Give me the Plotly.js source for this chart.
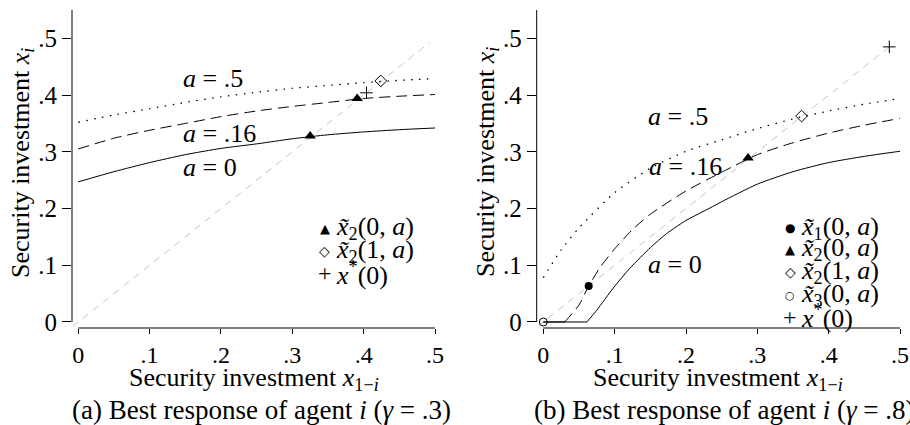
<!DOCTYPE html>
<html>
<head>
<meta charset="utf-8">
<script src="https://cdn.plot.ly/plotly-3.0.1.min.js"></script>
<style>html,body{margin:0;padding:0;background:#fff;}#plot{width:910px;height:425px;}</style>
</head>
<body>
<div id="plot"></div>
<script>
// ---------- data ----------
// Panel (a): gamma = .3
const leftX = [0, 0.05, 0.1, 0.15, 0.2, 0.25, 0.3, 0.35, 0.4, 0.45, 0.5];
const leftA0 = [0.247, 0.265, 0.281, 0.295, 0.306, 0.314, 0.323, 0.330, 0.335, 0.339, 0.342];
const leftA016 = [0.305, 0.324, 0.338, 0.350, 0.362, 0.372, 0.380, 0.387, 0.394, 0.398, 0.401];
const leftA05 = [0.352, 0.365, 0.376, 0.387, 0.397, 0.405, 0.412, 0.417, 0.422, 0.426, 0.429];
const leftTriX = [0.325, 0.391], leftTriY = [0.328, 0.394];
const leftDiaX = [0.424], leftDiaY = [0.425];
const leftPlusX = [0.404], leftPlusY = [0.404];

// Panel (b): gamma = .8
// flat (zero) parts of the best responses
const rightFlatXA0 = [0, 0.061], rightFlatA0 = [0, 0];
const rightFlatXA016 = [0, 0.03], rightFlatA016 = [0, 0];
// rising parts
const rightXA0 = [0.061, 0.075, 0.0981, 0.1215, 0.15, 0.173, 0.2, 0.2337, 0.25, 0.3, 0.35, 0.4, 0.45, 0.5];
const rightA0 = [0, 0.021, 0.060, 0.095, 0.131, 0.156, 0.179, 0.201, 0.212, 0.243, 0.265, 0.281, 0.292, 0.301];
const rightXA016 = [0.03, 0.05, 0.0636, 0.08, 0.1, 0.125, 0.15, 0.2, 0.25, 0.3, 0.35, 0.4, 0.45, 0.5];
const rightA016 = [0, 0.030, 0.0635, 0.097, 0.129, 0.163, 0.190, 0.231, 0.264, 0.295, 0.316, 0.333, 0.347, 0.359];
const rightXA05 = [0, 0.025, 0.05, 0.1, 0.15, 0.2, 0.25, 0.3, 0.35, 0.4, 0.45, 0.5];
const rightA05 = [0.078, 0.127, 0.166, 0.228, 0.271, 0.301, 0.321, 0.341, 0.358, 0.372, 0.384, 0.394];
const rightDotX = [0.0636], rightDotY = [0.0635];
const rightTriX = [0.287], rightTriY = [0.289];
const rightDiaX = [0.362], rightDiaY = [0.363];
const rightCircX = [0], rightCircY = [0];
const rightPlusX = [0.485], rightPlusY = [0.485];

// 45-degree reference line
const diagX = [-0.008, 0.493];
const diagY = [-0.008, 0.493];

// ticks
const tickVals = [0, 0.1, 0.2, 0.3, 0.4, 0.5];
const tickText = ['0', '.1', '.2', '.3', '.4', '.5'];

// ---------- traces ----------
const FONT = 'Liberation Serif, DejaVu Serif, serif';
const SYMFONT = 'DejaVu Sans, sans-serif';
function line(x, y, dash, color, width, xa, ya, shape) {
  const ln = {color: color, width: width, dash: dash};
  if (shape) { ln.shape = 'spline'; ln.smoothing = 0.6; }
  return {x: x, y: y, type: 'scatter', mode: 'lines', xaxis: xa, yaxis: ya, line: ln, hoverinfo: 'skip'};
}
function pts(x, y, symbol, size, xa, ya, lw) {
  return {x: x, y: y, type: 'scatter', mode: 'markers', xaxis: xa, yaxis: ya,
    marker: {symbol: symbol, size: size, color: '#000', line: {color: '#000', width: lw}}, hoverinfo: 'skip'};
}
const DIAG = '7px,6px', DASH = '11px,6px', DOT = '1.5px,6.5px';
const traces = [
  line(diagX, diagY, DIAG, '#c4c4c4', 1, 'x', 'y'),
  line(leftX, leftA0, 'solid', '#000', 1, 'x', 'y', true),
  line(leftX, leftA016, DASH, '#000', 1, 'x', 'y', true),
  line(leftX, leftA05, DOT, '#000', 1.3, 'x', 'y', true),
  pts(leftTriX, leftTriY, 'triangle-up', 10, 'x', 'y', 0),
  pts(leftDiaX, leftDiaY, 'diamond-open', 9, 'x', 'y', 1),
  pts(leftPlusX, leftPlusY, 'cross-thin-open', 9, 'x', 'y', 1),

  line(diagX, diagY, DIAG, '#c4c4c4', 1, 'x2', 'y2'),
  line(rightFlatXA016, rightFlatA016, 'solid', '#000', 1, 'x2', 'y2'),
  line(rightFlatXA0, rightFlatA0, 'solid', '#000', 1, 'x2', 'y2'),
  line(rightXA0, rightA0, 'solid', '#000', 1, 'x2', 'y2', true),
  line(rightXA016, rightA016, DASH, '#000', 1, 'x2', 'y2', true),
  line(rightXA05, rightA05, DOT, '#000', 1.3, 'x2', 'y2', true),
  pts(rightDotX, rightDotY, 'circle', 8, 'x2', 'y2', 0),
  pts(rightTriX, rightTriY, 'triangle-up', 10, 'x2', 'y2', 0),
  pts(rightDiaX, rightDiaY, 'diamond-open', 9, 'x2', 'y2', 1),
  pts(rightCircX, rightCircY, 'circle-open', 8, 'x2', 'y2', 1),
  pts(rightPlusX, rightPlusY, 'cross-thin-open', 9, 'x2', 'y2', 1)
];

// ---------- layout ----------
const W = 910, H = 425;
function xAxis(domain, lo, anchor) {
  return {domain: domain, range: [lo, 0.5], anchor: anchor, tickvals: tickVals, ticktext: tickText,
    ticks: 'outside', ticklen: 5, tickwidth: 1, tickcolor: '#000', showline: false, zeroline: false,
    showgrid: false, tickfont: {family: FONT, size: 24, color: '#000'}, fixedrange: true};
}
function yAxis(anchor) {
  return {domain: [1 - 328 / H, 1 - 10 / H], range: [-0.0106, 0.55], anchor: anchor, tickvals: tickVals, ticktext: tickText,
    ticks: 'outside', ticklen: 9, tickwidth: 1, tickcolor: '#000', showline: false, zeroline: false,
    showgrid: false, tickfont: {family: FONT, size: 25, color: '#000'}, fixedrange: true};
}
const axLine = {color: '#000', width: 1};
const shapes = [
  {type: 'line', xref: 'x domain', yref: 'y', x0: 0, x1: 0, y0: 0, y1: 0.55, line: axLine},
  {type: 'line', xref: 'x', yref: 'y domain', x0: 0, x1: 0.5, y0: 0, y1: 0, line: axLine},
  {type: 'line', xref: 'x2 domain', yref: 'y2', x0: 0, x1: 0, y0: 0, y1: 0.55, line: axLine},
  {type: 'line', xref: 'x2', yref: 'y2 domain', x0: 0, x1: 0.5, y0: 0, y1: 0, line: axLine}
];
function ann(text, xref, yref, x, y, size, xanchor, extra, family) {
  return Object.assign({text: text, xref: xref, yref: yref, x: x, y: y, showarrow: false,
    xanchor: xanchor || 'center', yanchor: 'middle', font: {family: family || FONT, size: size, color: '#000'}}, extra || {});
}
const LG = 26;
function legendRow(symText, symSize, symFam, label, xref, yref, xs, xt, y) {
  return [ann(symText, xref, yref, xs, y, symSize, 'center', null, symFam),
          ann(label, xref, yref, xt, y, LG, 'left')];
}
const x2t = '<i>x̃</i><sub>2</sub>';
const annotations = [
  // axis titles
  ann('Security investment <i>x</i><sub>1−<i>i</i></sub>', 'x domain', 'paper', 0.5, 1 - 379 / H, 26),
  ann('Security investment <i>x</i><sub>1−<i>i</i></sub>', 'x2 domain', 'paper', 0.5, 1 - 379 / H, 26),
  ann('Security investment <i>x<sub>i</sub></i>', 'paper', 'paper', 22 / W, 1 - 163 / H, 26, 'center', {textangle: -90}),
  ann('Security investment <i>x<sub>i</sub></i>', 'paper', 'paper', 487 / W, 1 - 162 / H, 26, 'center', {textangle: -90}),
  // captions
  ann('(a) Best response of agent <i>i</i> (<i>γ</i> = .3)', 'paper', 'paper', 261 / W, 1 - 409.5 / H, 27),
  ann('(b) Best response of agent <i>i</i> (<i>γ</i> = .8)', 'paper', 'paper', 532 / W, 1 - 409.5 / H, 27, 'left'),
  // curve labels, panel (a)
  ann('<i>a</i> = .5', 'x', 'y', 0.189, 0.4295, 26),
  ann('<i>a</i> = .16', 'x', 'y', 0.1985, 0.3325, 26),
  ann('<i>a</i> = 0', 'x', 'y', 0.1845, 0.2725, 26),
  // curve labels, panel (b)
  ann('<i>a</i> = .5', 'x2', 'y2', 0.189, 0.363, 26),
  ann('<i>a</i> = .16', 'x2', 'y2', 0.1987, 0.2735, 26),
  ann('<i>a</i> = 0', 'x2', 'y2', 0.1846, 0.1006, 26)
].concat(
  // legend, panel (a)
  legendRow('▲', 13, SYMFONT, x2t + '(0, <i>a</i>)', 'x', 'y', 0.3455, 0.359, 0.165),
  legendRow('◇', 14, SYMFONT, x2t + '(1, <i>a</i>)', 'x', 'y', 0.3455, 0.359, 0.126),
  legendRow('+', 24, FONT, '<i>x</i><sup>*</sup>(0)', 'x', 'y', 0.3455, 0.359, 0.086),
  // legend, panel (b)
  legendRow('●', 12, SYMFONT, '<i>x̃</i><sub>1</sub>(0, <i>a</i>)', 'x2', 'y2', 0.3459, 0.359, 0.166),
  legendRow('▲', 13, SYMFONT, x2t + '(0, <i>a</i>)', 'x2', 'y2', 0.3459, 0.359, 0.128),
  legendRow('◇', 14, SYMFONT, x2t + '(1, <i>a</i>)', 'x2', 'y2', 0.3459, 0.359, 0.088),
  legendRow('○', 11, SYMFONT, '<i>x̃</i><sub>3</sub>(0, <i>a</i>)', 'x2', 'y2', 0.3459, 0.359, 0.047),
  legendRow('+', 24, FONT, '<i>x</i><sup>*</sup>(0)', 'x2', 'y2', 0.3459, 0.359, 0.009)
);
const layout = {
  width: W, height: H, margin: {l: 0, r: 0, t: 0, b: 0},
  paper_bgcolor: '#fff', plot_bgcolor: 'rgba(0,0,0,0)', showlegend: false,
  font: {family: FONT, color: '#000'},
  xaxis: xAxis([72 / W, 435 / W], -0.0088, 'y'),
  yaxis: yAxis('x'),
  xaxis2: xAxis([536.7 / W, 900 / W], -0.0093, 'y2'),
  yaxis2: yAxis('x2'),
  shapes: shapes, annotations: annotations
};
Plotly.newPlot('plot', traces, layout, {staticPlot: true, displayModeBar: false});
</script>
</body>
</html>
